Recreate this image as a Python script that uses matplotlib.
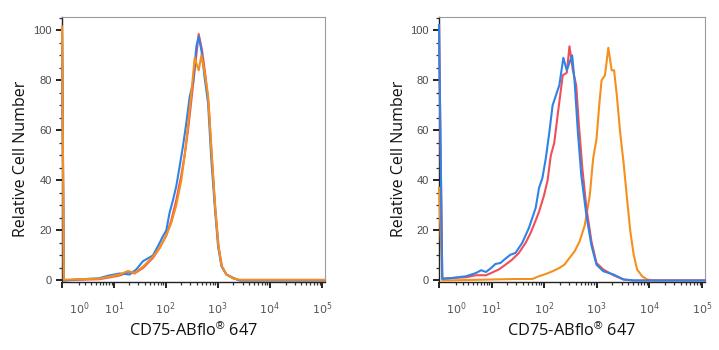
import matplotlib
matplotlib.use('Agg')
import matplotlib.pyplot as plt
from matplotlib.ticker import FixedLocator, FixedFormatter, MultipleLocator

plt.rcParams['mathtext.fontset'] = 'custom'
plt.rcParams['mathtext.rm'] = 'Liberation Sans'
plt.rcParams['mathtext.it'] = 'Liberation Sans'

BLUE = '#2f83e6'
RED = '#f04f58'
ORANGE = '#f5901e'

X_MIN, X_MAX = -1.45, 1.14e5
Y_MIN, Y_MAX = -0.6, 105.3

# left panel: three nearly overlapping histograms
left_blue_x = [-1.45, -1.16, 0.76, 4.8, 7.9, 13.0, 20.3, 27.3, 36.7, 57, 71.3, 89,
               103, 119, 138, 160, 186, 215, 250, 290, 336, 389, 431, 486, 562,
               652, 755, 875, 1014, 1177, 1468, 1972, 2648, 1.14e5]
left_blue_y = [100, 0, 0.4, 0.9, 2, 2.8, 2.4, 4.4, 7.7, 10, 13.7, 17.7,
               20, 27, 32, 37.6, 45.6, 53.6, 63, 73.5, 79, 93.5, 97.5, 92, 81,
               71, 48, 30, 13.7, 5.7, 2.4, 1, 0, 0]

left_red_x = [-1.45, -1.16, 0.76, 4.8, 7.9, 13.0, 20.3, 25.3, 36.7, 57, 76.8, 103,
              128.5, 160, 200, 232, 269, 312, 361, 431, 500, 580, 672, 779, 902,
              1045, 1211, 1468, 1972, 2648, 1.14e5]
left_red_y = [100, 0, 0.3, 0.5, 1.2, 2, 3.5, 2.8, 5, 9, 13, 18,
              24, 32, 42, 50, 60, 72, 84, 98.5, 92, 82, 70, 48, 28,
              13, 5.5, 2.4, 1, 0, 0]

left_orange_x = [-1.45, -1.16, 0.76, 4.8, 7.9, 13.0, 18.9, 25.3, 36.7, 57, 76.8, 103,
                 128.5, 160, 200, 232, 269, 312, 361, 401, 431, 486, 562, 652,
                 755, 875, 1014, 1177, 1468, 1972, 2648, 1.14e5]
left_orange_y = [101.5, 0.3, 0.5, 0.7, 1.5, 2.4, 3.8, 3, 5.5, 9.5, 13, 18,
                 23, 30, 40, 50, 62, 75, 89, 86, 84, 90, 83, 74,
                 52, 32, 15, 6, 2.4, 0.8, 0.3, 0.3]

# right panel: two unshifted curves and one shifted curve
right_blue_x = [-1.45, -0.96, 0.47, 2.6, 4.7, 6.1, 7.7, 9.8, 11.9, 14.9, 18.6,
                23.2, 28.9, 38.9, 52.2, 60.5, 70.2, 81.3, 94.2, 109, 127, 147,
                170, 197, 235, 273, 345, 383, 444, 515, 643, 802, 1000, 1343,
                2093, 3260, 5070, 1.14e5]
right_blue_y = [102, 0.7, 1, 1.7, 3, 4.1, 3.4, 5, 6.6, 7, 8.7,
                10.3, 11, 15, 21, 25, 29, 37, 41, 48.7, 59, 70,
                74, 78, 89, 84, 90, 80, 59, 42, 26, 14, 6.3, 3.7,
                2.4, 0.4, 0, 0]

right_red_x = [-1.45, -0.96, 0.47, 2.6, 4.7, 7.7, 9.8, 13.8, 18.6, 24.9, 33.6,
               45.1, 56.2, 70.2, 81.3, 101, 118, 136, 158, 183, 229, 273, 307,
               356, 412, 464, 538, 643, 802, 1000, 1343, 2093, 3260, 5070, 1.14e5]
right_red_y = [102, 0.7, 1, 1.3, 2.1, 2.1, 3, 4.4, 6.3, 8.3, 11,
               15, 19, 24, 27.5, 34, 40, 50, 55, 66, 82, 83, 93.6,
               84, 78, 62, 45, 29, 15.6, 7, 4.4, 2.1, 0.4, 0, 0]

right_orange_x = [-1.45, -0.96, 10.3, 28.9, 60.5, 81, 109, 147, 197, 246, 307,
                  383, 478, 597, 745, 863, 1000, 1125, 1247, 1445, 1675, 1940,
                  2153, 2425, 2810, 3260, 3775, 4375, 5070, 5875, 7330, 9160,
                  12300, 1.14e5]
right_orange_y = [37, 0, 0.4, 0.6, 0.6, 1.7, 2.6, 3.7, 5, 6.3, 9,
                  11.6, 15.6, 22, 34, 48.7, 56.6, 70, 80, 82, 93, 84,
                  84, 74, 59, 47, 33, 19.6, 10.3, 4.4, 1.7, 0.4,
                  0, 0]

decades = [10, 100, 1000, 10000, 100000]
minor_vals = [m * d // 10 for d in decades for m in range(2, 10)]
minor_vals = [1] + minor_vals
tick_text = [r'$\mathregular{10^{%d}}$' % i for i in range(6)]


def style_axes(ax):
    ax.set_xscale('asinh', linear_width=3.2)
    ax.set_xlim(X_MIN, X_MAX)
    ax.set_ylim(Y_MIN, Y_MAX)

    ax.xaxis.set_major_locator(FixedLocator([X_MIN] + decades))
    ax.xaxis.set_major_formatter(FixedFormatter([''] + tick_text[1:]))
    ax.xaxis.set_minor_locator(FixedLocator(minor_vals))
    ax.xaxis.set_minor_formatter(
        FixedFormatter([tick_text[0]] + [''] * (len(minor_vals) - 1)))

    ax.yaxis.set_major_locator(FixedLocator([0, 20, 40, 60, 80, 100]))
    ax.yaxis.set_minor_locator(MultipleLocator(5))

    ax.tick_params(axis='x', which='major', direction='out', length=4,
                   width=1.4, color='#222222', pad=9, labelsize=8,
                   labelcolor='#555555')
    ax.tick_params(axis='x', which='minor', direction='out', length=2.3,
                   width=0.9, color='#333333', pad=10.7, labelsize=8,
                   labelcolor='#555555')
    ax.tick_params(axis='y', which='major', direction='out', length=4.5,
                   width=1.4, color='#222222', pad=3, labelsize=8,
                   labelcolor='#4a4a4a')
    ax.tick_params(axis='y', which='minor', direction='out', length=2.5,
                   width=0.9, color='#333333')
    for lbl in ax.get_yticklabels():
        lbl.set_fontfamily('Liberation Sans')

    for side in ['top', 'right']:
        ax.spines[side].set_color('#9a9a9a')
        ax.spines[side].set_linewidth(0.8)
    for side in ['left', 'bottom']:
        ax.spines[side].set_color('#222222')
        ax.spines[side].set_linewidth(1.0)

    ax.set_ylabel('Relative Cell Number', fontfamily='Open Sans',
                  fontsize=11.5, color='#111111')
    ax.set_xlabel('CD75-ABflo$^{®}$ 647', fontfamily='Open Sans',
                  fontsize=11.8, color='#111111')


fig = plt.figure(figsize=(7.19, 3.5), dpi=100)
ax1 = fig.add_axes([62 / 719, 68 / 350, 263 / 719, 265 / 350])
ax2 = fig.add_axes([439 / 719, 68 / 350, 266 / 719, 265 / 350])

lw = 1.5
ax1.plot(left_red_x, left_red_y, color=RED, lw=lw, clip_on=False, zorder=3)
ax1.plot(left_blue_x, left_blue_y, color=BLUE, lw=lw, clip_on=False, zorder=3)
ax1.plot(left_orange_x, left_orange_y, color=ORANGE, lw=lw, clip_on=False,
         zorder=3)

ax2.plot(right_orange_x, right_orange_y, color=ORANGE, lw=lw, clip_on=False,
         zorder=3)
ax2.plot(right_red_x, right_red_y, color=RED, lw=lw, clip_on=False, zorder=3)
ax2.plot(right_blue_x, right_blue_y, color=BLUE, lw=lw, clip_on=False,
         zorder=3)

for ax in (ax1, ax2):
    style_axes(ax)

ax1.yaxis.set_label_coords(-0.125, 0.464)
ax2.yaxis.set_label_coords(-0.12, 0.464)
ax1.xaxis.set_label_coords(0.5, -0.15)
ax2.xaxis.set_label_coords(0.5, -0.15)

fig.savefig('out.png', dpi=100)
